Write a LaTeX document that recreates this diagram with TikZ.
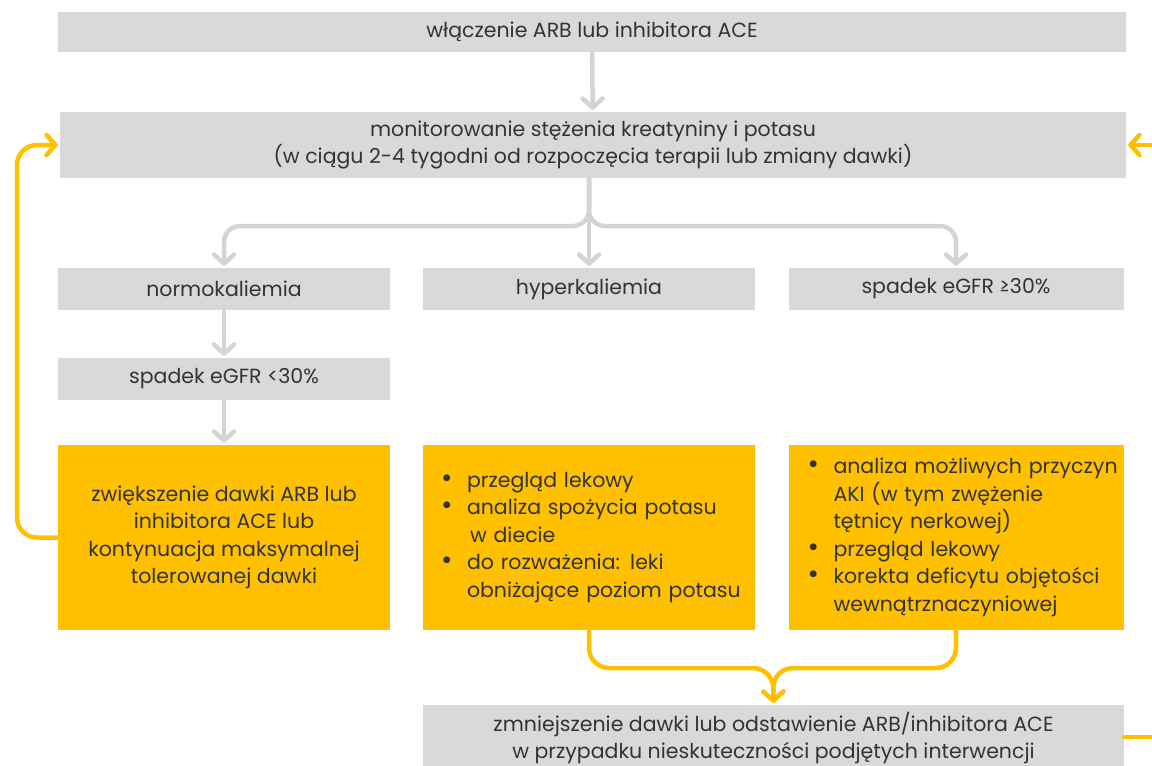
\documentclass[tikz,border=0pt]{standalone}
\usepackage{fontspec}
\usepackage{graphicx}
\setmainfont{Poppins}
\usetikzlibrary{arrows.meta}
\definecolor{boxgray}{HTML}{D9D9D9}
\definecolor{linegray}{HTML}{D4D4D4}
\definecolor{amber}{HTML}{FFC000}
\definecolor{ink}{HTML}{333333}
\newcommand\bpoint[1]{\hangindent=26pt\hangafter=1\noindent\makebox[26pt][l]{\smash{\scalebox{1.35}{•}}}#1\par}
\begin{document}
\begin{tikzpicture}[x=1pt,y=-1pt,
  every node/.style={font=\fontsize{20.5}{27.5}\selectfont, text=ink, inner sep=0pt},
  graybox/.style={fill=boxgray, align=center},
  amberbox/.style={fill=amber, minimum height=185pt},
  grayflow/.style={draw=linegray, line width=4.5pt, line cap=round, line join=round, rounded corners=16pt,
    -{Straight Barb[length=9pt,width=20pt,line cap=round,line join=round]}, shorten >=2pt},
  amberflow/.style={draw=amber, line width=4.5pt, line cap=round, line join=round, rounded corners=20pt,
    -{Straight Barb[length=9pt,width=20pt,line cap=round,line join=round]}, shorten >=2pt},
  amberjoin/.style={draw=amber, line width=4.5pt, line cap=round, rounded corners=20pt},
  listtext/.style={text width=320pt, align=left, anchor=west}
]
\clip (0,0) rectangle (1152,766);
\fill[white] (0,0) rectangle (1152,766);

% gray header boxes
\node[graybox, minimum width=1068pt, minimum height=40pt] (start) at (592,32) {włączenie ARB lub inhibitora ACE};
\node[graybox, minimum width=1066pt, minimum height=66pt] (monitor) at (593,145)
  {monitorowanie stężenia kreatyniny i potasu\\(w ciągu 2-4 tygodni od rozpoczęcia terapii lub zmiany dawki)};

% outcome row
\node[graybox, minimum width=332pt, minimum height=42pt] (normo) at (224,289) {normokaliemia};
\node[graybox, minimum width=332pt, minimum height=42pt] (hyper) at (589,289) {hyperkaliemia};
\node[graybox, minimum width=335pt, minimum height=42pt] (drop) at (956,289) {spadek eGFR ≥30\%};
\node[graybox, minimum width=332pt, minimum height=42pt] (dropsmall) at (224,379) {spadek eGFR <30\%};

% action boxes
\node[amberbox, minimum width=332pt, align=center] (increase) at (224,537.5)
  {zwiększenie dawki ARB lub\\inhibitora ACE lub\\kontynuacja maksymalnej\\tolerowanej dawki};
\node[amberbox, minimum width=332pt] (hyperact) at (589,537.5) {};
\node[listtext] at ([xshift=18pt]hyperact.west) {%
  \bpoint{przegląd lekowy}
  \bpoint{analiza spożycia potasu\newline\hspace*{3pt}w diecie}
  \bpoint{do rozważenia: leki\newline obniżające poziom potasu}};
\node[amberbox, minimum width=335pt] (dropact) at (956,537.5) {};
\node[listtext] at ([xshift=19pt]dropact.west) {%
  \bpoint{analiza możliwych przyczyn\newline AKI (w tym zwężenie\newline tętnicy nerkowej)}
  \bpoint{przegląd lekowy}
  \bpoint{korekta deficytu objętości\newline wewnątrznaczyniowej}};

% final box
\node[graybox, minimum width=701pt, minimum height=66pt] (reduce) at (773.5,738)
  {zmniejszenie dawki lub odstawienie ARB/inhibitora ACE\\w przypadku nieskuteczności podjętych interwencji};

% gray connectors
\draw[grayflow] (start) -- (monitor);
\coordinate (split) at (589,226);
\draw[grayflow] (hyper.north |- monitor.south) -- (hyper.north);
\draw[grayflow] (hyper.north |- monitor.south) -- (split) -- (split -| normo.north) -- (normo.north);
\draw[grayflow] (hyper.north |- monitor.south) -- (split) -- (split -| drop.north) -- (drop.north);
\draw[grayflow] (normo) -- (dropsmall);
\draw[grayflow] (dropsmall) -- (increase);

% amber feedback loop on the left
\coordinate (loopbottom) at (17,537.5);
\coordinate (looptop) at (17,145);
\draw[amberflow] (increase.west) -- (loopbottom) -- (looptop) -- (monitor.west);

% amber loop on the right edge
\coordinate (rightin) at (1160,145);
\coordinate (rightout) at (1160,737);
\draw[amberflow] (rightin) -- (monitor.east);
\draw[amberjoin] (reduce.east |- rightout) -- (rightout);

% amber merge into the final box
\coordinate (merge) at (773,668);
\draw[amberflow] (hyperact.south) -- (merge -| hyperact.south) -- (merge) -- (reduce.north);
\draw[amberflow] (dropact.south) -- (merge -| dropact.south) -- (merge) -- (reduce.north);
\end{tikzpicture}
\end{document}
